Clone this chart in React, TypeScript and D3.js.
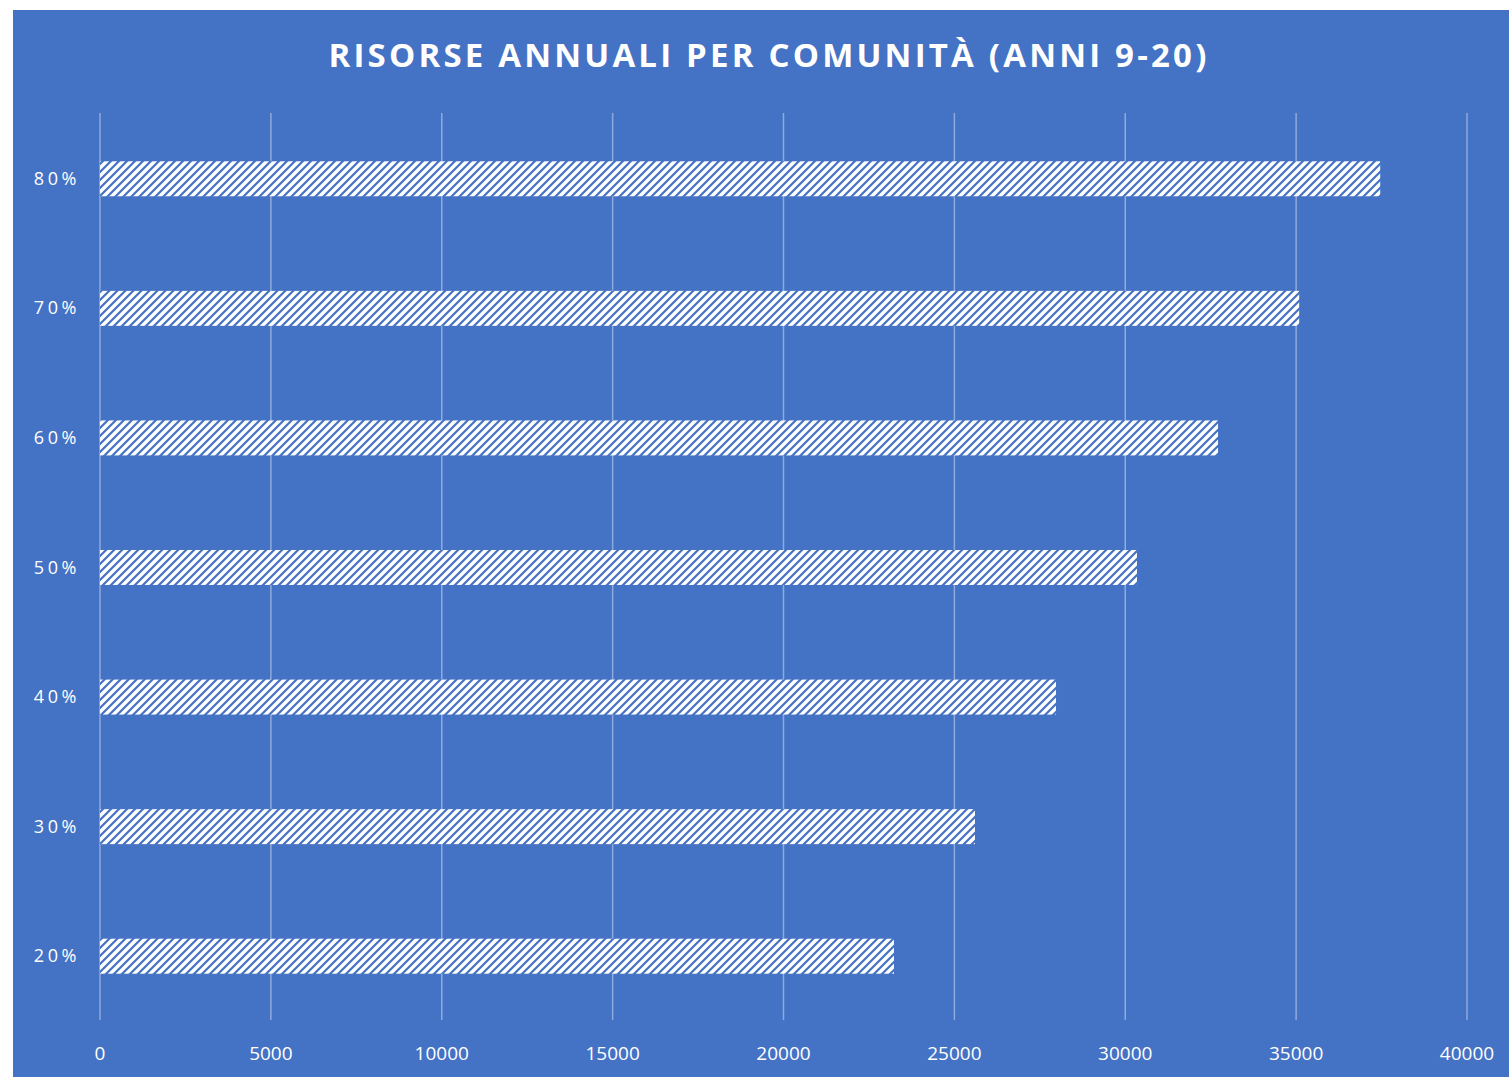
import React from "react";
import * as d3 from "d3";

const categories = ["80%", "70%", "60%", "50%", "40%", "30%", "20%"];
const values = [37460, 35090, 32715, 30344, 27974, 25603, 23232];
const xTicks = [0, 5000, 10000, 15000, 20000, 25000, 30000, 35000, 40000];
const title = "RISORSE ANNUALI PER COMUNITÀ (ANNI 9-20)";

export default function App() {
  const W = 1509, H = 1077;
  const bg = "#4472C4";
  const x = d3.scaleLinear().domain([0, 40000]).range([100, 1467]);
  const y = d3.scaleBand().domain(categories).range([114, 1021]).paddingInner(0.73).paddingOuter(0.365);
  return (
    <svg width={W} height={H} style={{ position: "absolute", left: 0, top: 0 }}>
      <defs>
        <pattern id="hatch" width="8" height="8" patternUnits="userSpaceOnUse">
          <rect width="8" height="8" fill="#ffffff" />
          <path d="M-2,2 L2,-2 M0,8 L8,0 M6,10 L10,6" stroke={bg} strokeWidth="2.2" />
        </pattern>
      </defs>
      <rect x={0} y={0} width={W} height={H} fill="#ffffff" />
      <rect x={13} y={10} width={W - 13} height={H - 10} fill={bg} />
      <text x={769} y={67} textAnchor="middle" fill="#ffffff" fontFamily="'Open Sans', sans-serif" fontWeight="bold" fontSize={33} letterSpacing={3.2}>{title}</text>
      {xTicks.map(t => (
        <g key={t}>
          <line x1={x(t)} x2={x(t)} y1={113} y2={1020} stroke="#8FAADC" strokeWidth={1.5} />
          <text x={x(t)} y={1060} textAnchor="middle" fill="#ffffff" fontFamily="'Open Sans', sans-serif" fontSize={19}>{t}</text>
        </g>
      ))}
      {categories.map((c, i) => (
        <g key={c}>
          <rect x={x(0)} y={y(c)!} width={x(values[i]) - x(0)} height={y.bandwidth()} fill="url(#hatch)" />
          <text x={80} y={y(c)! + y.bandwidth() / 2 + 6} textAnchor="end" fill="#ffffff" fontFamily="'Open Sans', sans-serif" fontSize={18} letterSpacing={3.6}>{c}</text>
        </g>
      ))}
    </svg>
  );
}
